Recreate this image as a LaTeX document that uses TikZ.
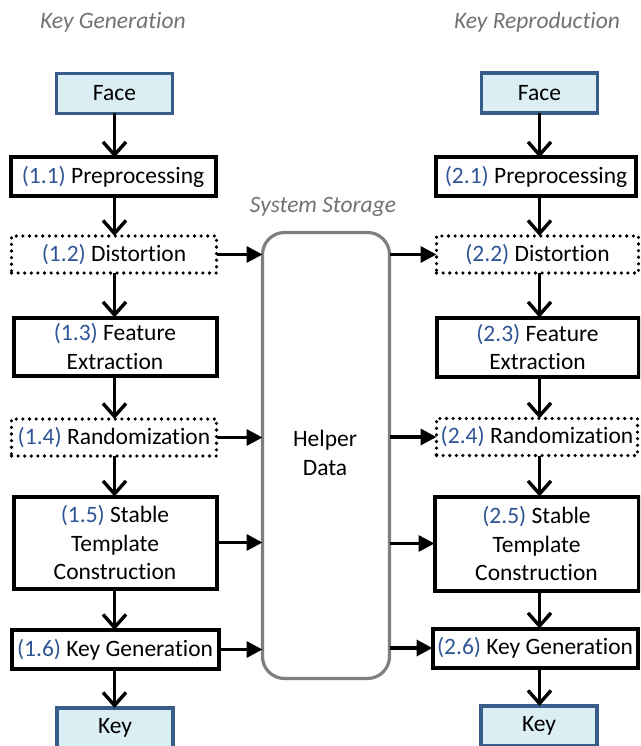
\documentclass[tikz,border=0pt]{standalone}
\usepackage{fontspec}
\setmainfont[Ligatures=NoCommon]{Carlito}
\usetikzlibrary{arrows.meta}
\definecolor{numblue}{RGB}{47,85,151}
\definecolor{facefill}{RGB}{218,238,243}
\definecolor{faceline}{RGB}{56,93,138}
\definecolor{titlegray}{RGB}{118,113,113}
\definecolor{storegray}{RGB}{127,127,127}
\newcommand{\nb}[1]{{\color{numblue}#1}}
\begin{document}
\begin{tikzpicture}[x=1pt,y=-1pt,
  every node/.style={font=\fontsize{23.5}{28.5}\selectfont, inner sep=0pt, outer sep=0pt, align=center},
  io/.style={draw=faceline, fill=facefill, line width=3.3pt, minimum width=116pt, minimum height=40pt},
  proc/.style={draw=black, line width=4pt, minimum height=38pt},
  dotbox/.style={draw=black, line width=3.6pt, line cap=round, dash pattern=on 0pt off 6.6pt, minimum height=37pt},
  title/.style={font=\fontsize{23.5}{28.5}\selectfont\itshape, text=titlegray},
  vflow/.style={line width=3.4pt, -{Straight Barb[length=13pt,width=23pt]}},
  hflow/.style={line width=3.4pt, -{Triangle[length=16pt,width=16pt]}}
]
\clip (0,0) rectangle (640,746);
\fill[white] (0,0) rectangle (640,746);

% titles
\node[title] (tgen) at (113,22) {Key Generation};
\node[title] (trep) at (537,22) {Key Reproduction};
\node[title] (tsto) at (323,207) {System Storage};

% storage
\node[draw=storegray, line width=3.2pt, rounded corners=22pt, minimum width=127pt, minimum height=446pt] (helper) at (326,455.5) {};
\node (htext) at (325,453) {Helper\\Data};

% left column
\node[io] (face1) at (114.5,93.5) {Face};
\node[proc, minimum width=205pt] (p11) at (113,176.5) {\nb{(1.1)} Preprocessing};
\node[dotbox, minimum width=205pt] (p12) at (114,254.5) {\nb{(1.2)} Distortion};
\node[proc, minimum width=203pt, minimum height=58pt] (p13) at (115,346.5) {\nb{(1.3)} Feature\\Extraction};
\node[dotbox, minimum width=205pt] (p14) at (114,437.5) {\nb{(1.4)} Randomization};
\node[proc, minimum width=203pt, minimum height=92pt] (p15) at (115,542.5) {\nb{(1.5)} Stable\\Template\\Construction};
\node[proc, minimum width=207pt, minimum height=39pt] (p16) at (115,649.5) {\nb{(1.6)} Key Generation};
\node[io] (key1) at (115,728) {Key};

% right column
\node[io] (face2) at (539.5,93) {Face};
\node[proc, minimum width=200pt] (p21) at (536,176.5) {\nb{(2.1)} Preprocessing};
\node[dotbox, minimum width=202pt] (p22) at (537.5,254.5) {\nb{(2.2)} Distortion};
\node[proc, minimum width=202pt, minimum height=59pt] (p23) at (537.5,347) {\nb{(2.3)} Feature\\Extraction};
\node[dotbox, minimum width=201pt] (p24) at (537,437) {\nb{(2.4)} Randomization};
\node[proc, minimum width=204pt, minimum height=94pt] (p25) at (536.5,543.5) {\nb{(2.5)} Stable\\Template\\Construction};
\node[proc, minimum width=205pt, minimum height=39pt] (p26) at (535,648) {\nb{(2.6)} Key Generation};
\node[io] (key2) at (539,726) {Key};

% vertical flows, left
\draw[vflow] (face1.south) -- (face1.south |- p11.north);
\draw[vflow] (face1.south |- p11.south) -- (face1.south |- p12.north);
\draw[vflow] (face1.south |- p12.south) -- (face1.south |- p13.north);
\draw[vflow] (face1.south |- p13.south) -- (face1.south |- p14.north);
\draw[vflow] (face1.south |- p14.south) -- (face1.south |- p15.north);
\draw[vflow] (face1.south |- p15.south) -- (face1.south |- p16.north);
\draw[vflow] (face1.south |- p16.south) -- (face1.south |- key1.north);

% vertical flows, right
\draw[vflow] (face2.south) -- (face2.south |- p21.north);
\draw[vflow] (face2.south |- p21.south) -- (face2.south |- p22.north);
\draw[vflow] (face2.south |- p22.south) -- (face2.south |- p23.north);
\draw[vflow] (face2.south |- p23.south) -- (face2.south |- p24.north);
\draw[vflow] (face2.south |- p24.south) -- (face2.south |- p25.north);
\draw[vflow] (face2.south |- p25.south) -- (face2.south |- p26.north);
\draw[vflow] (face2.south |- p26.south) -- (face2.south |- key2.north);

% to storage
\draw[hflow] (p12.east) -- (p12.east -| helper.west);
\draw[hflow] (p14.east) -- (p14.east -| helper.west);
\draw[hflow] (p15.east) -- (p15.east -| helper.west);
\draw[hflow] (p16.east) -- (p16.east -| helper.west);

% from storage
\draw[hflow] (helper.east |- p22.west) -- (p22.west);
\draw[hflow] (helper.east |- p24.west) -- (p24.west);
\draw[hflow] (helper.east |- p25.west) -- (p25.west);
\draw[hflow] (helper.east |- p26.west) -- (p26.west);
\end{tikzpicture}
\end{document}
